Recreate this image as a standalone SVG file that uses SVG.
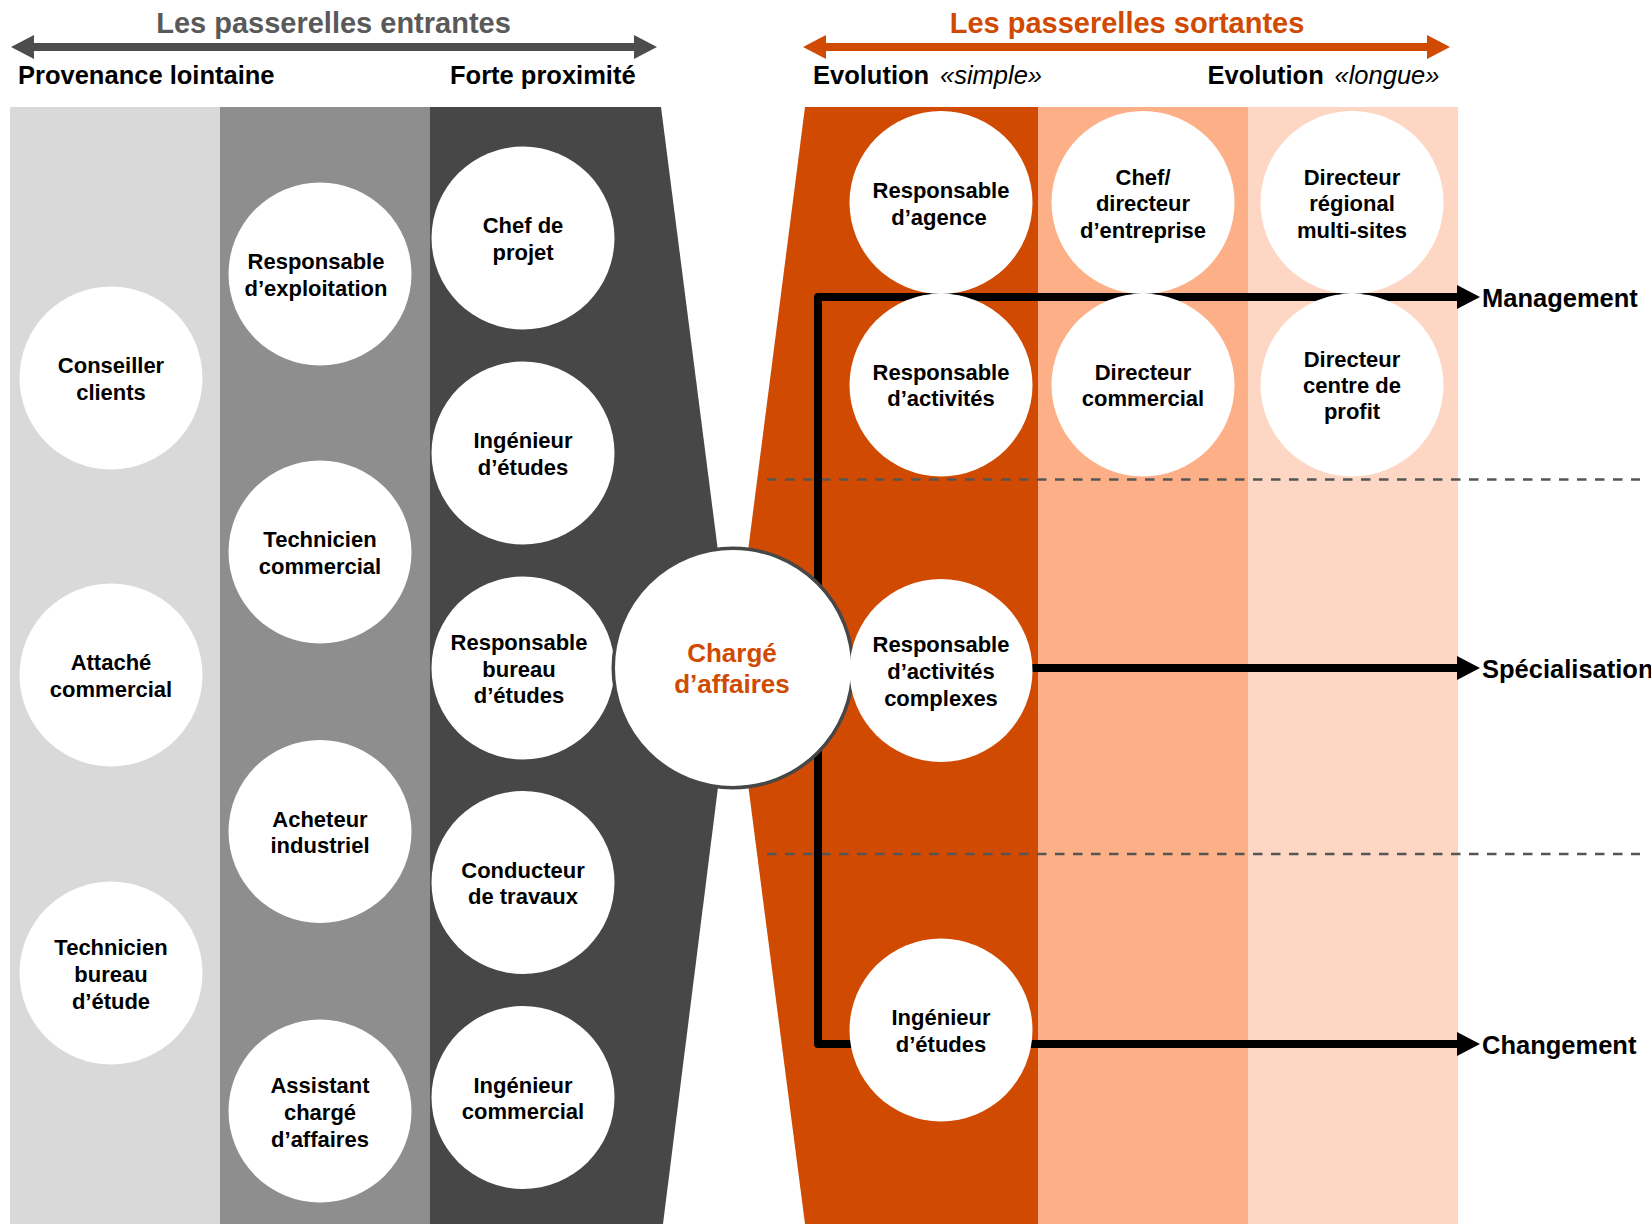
<svg xmlns="http://www.w3.org/2000/svg" width="1651" height="1224" viewBox="0 0 1651 1224">
<defs>
<style>
.t{font-family:"Liberation Sans",Arial,sans-serif;font-weight:bold}
.n circle{fill:#ffffff}
.n text{font-family:"Liberation Sans",Arial,sans-serif;font-weight:bold;font-size:22px;fill:#000;text-anchor:middle}
.hd{font-family:"Liberation Sans",Arial,sans-serif;font-weight:bold;font-size:25.5px;fill:#000}
.it{font-weight:normal;font-style:italic}
.dash{stroke:#555555;stroke-width:2.5;stroke-dasharray:9.5 8.5;fill:none}
.conn{stroke:#000;stroke-width:8;fill:none;stroke-linejoin:round}
</style>
<marker id="ah" markerUnits="userSpaceOnUse" markerWidth="24" markerHeight="24" refX="0" refY="12" orient="auto-start-reverse" viewBox="0 0 24 24">
<path d="M0 0 L23 12 L0 24 Z" fill="#000"/>
</marker>
</defs>
<rect width="1651" height="1224" fill="#ffffff"/>

<g id="headers">
<text class="t" x="333.5" y="33" font-size="29" fill="#595959" text-anchor="middle">Les passerelles entrantes</text>
<line x1="33" y1="47" x2="635" y2="47" stroke="#4d4d4d" stroke-width="8"/>
<polygon points="11,47 34,35 34,59" fill="#4d4d4d"/>
<polygon points="657,47 634,35 634,59" fill="#4d4d4d"/>
<text class="hd" x="18" y="84">Provenance lointaine</text>
<text class="hd" x="450" y="84">Forte proximité</text>

<text class="t" x="1127" y="33" font-size="29" fill="#d04a02" text-anchor="middle">Les passerelles sortantes</text>
<line x1="825" y1="47" x2="1428" y2="47" stroke="#d04a02" stroke-width="8"/>
<polygon points="803,47 826,35 826,59" fill="#d04a02"/>
<polygon points="1450,47 1427,35 1427,59" fill="#d04a02"/>
<text class="hd" x="813" y="84">Evolution</text>
<text class="hd it" x="940" y="84">«simple»</text>
<text class="hd" x="1207.6" y="84">Evolution</text>
<text class="hd it" x="1334.5" y="84">«longue»</text>
</g>

<g id="background">
<rect x="10" y="107" width="210" height="1117" fill="#d9d9d9"/>
<rect x="220" y="107" width="210" height="1117" fill="#8e8e8e"/>
<polygon points="430,107 661,107 733,668 663,1224 430,1224" fill="#474747"/>
<polygon points="805,107 1038,107 1038,1224 805,1224 733,668" fill="#d04a02"/>
<rect x="1038" y="107" width="210" height="1117" fill="#fdb088"/>
<rect x="1248" y="107" width="210" height="1117" fill="#fdd7c4"/>
</g>

<g id="separators">
<line class="dash" x1="767" y1="479.5" x2="1640" y2="479.5"/>
<line class="dash" x1="767" y1="854" x2="1640" y2="854"/>
</g>

<g id="connectors">
<path class="conn" d="M1457 297 H818 V1044 H1457" marker-start="url(#ah)" marker-end="url(#ah)"/>
<line class="conn" x1="818" y1="668" x2="1457" y2="668" marker-end="url(#ah)"/>
<text class="hd" x="1482" y="307">Management</text>
<text class="hd" x="1482" y="678">Spécialisation</text>
<text class="hd" x="1482" y="1054">Changement</text>
</g>

<g id="n-conseiller" class="n"><circle cx="111" cy="378" r="91.5"/><text x="111" y="373">Conseiller<tspan x="111" dy="26.5">clients</tspan></text></g>
<g id="n-attache" class="n"><circle cx="111" cy="675" r="91.5"/><text x="111" y="670">Attaché<tspan x="111" dy="26.5">commercial</tspan></text></g>
<g id="n-technicien-be" class="n"><circle cx="111" cy="973" r="91.5"/><text x="111" y="955">Technicien<tspan x="111" dy="26.8">bureau</tspan><tspan x="111" dy="26.8">d’étude</tspan></text></g>

<g id="n-resp-exploitation" class="n"><circle cx="320" cy="274" r="91.5"/><text x="316" y="269">Responsable<tspan x="316" dy="26.5">d’exploitation</tspan></text></g>
<g id="n-tech-commercial" class="n"><circle cx="320" cy="552" r="91.5"/><text x="320" y="547">Technicien<tspan x="320" dy="26.5">commercial</tspan></text></g>
<g id="n-acheteur" class="n"><circle cx="320" cy="831.5" r="91.5"/><text x="320" y="826.5">Acheteur<tspan x="320" dy="26.5">industriel</tspan></text></g>
<g id="n-assistant" class="n"><circle cx="320" cy="1111" r="91.5"/><text x="320" y="1093">Assistant<tspan x="320" dy="26.8">chargé</tspan><tspan x="320" dy="26.8">d’affaires</tspan></text></g>

<g id="n-chef-projet" class="n"><circle cx="523" cy="238" r="91.5"/><text x="523" y="233">Chef de<tspan x="523" dy="26.5">projet</tspan></text></g>
<g id="n-ing-etudes-in" class="n"><circle cx="523" cy="453" r="91.5"/><text x="523" y="448">Ingénieur<tspan x="523" dy="26.5">d’études</tspan></text></g>
<g id="n-resp-bureau" class="n"><circle cx="523" cy="668" r="91.5"/><text x="519" y="650">Responsable<tspan x="519" dy="26.5">bureau</tspan><tspan x="519" dy="26.5">d’études</tspan></text></g>
<g id="n-conducteur" class="n"><circle cx="523" cy="882.5" r="91.5"/><text x="523" y="877.5">Conducteur<tspan x="523" dy="26.5">de travaux</tspan></text></g>
<g id="n-ing-commercial" class="n"><circle cx="523" cy="1097.5" r="91.5"/><text x="523" y="1092.5">Ingénieur<tspan x="523" dy="26.5">commercial</tspan></text></g>

<g id="n-charge-affaires"><circle cx="733" cy="668" r="119.75" fill="#ffffff" stroke="#474747" stroke-width="3.5"/><text class="t" x="732" y="662" font-size="26" fill="#d04a02" text-anchor="middle">Chargé<tspan x="732" dy="31">d’affaires</tspan></text></g>

<g id="n-resp-agence" class="n"><circle cx="941" cy="202.5" r="91.5"/><text x="941" y="198">Responsable<tspan x="939" dy="26.5">d’agence</tspan></text></g>
<g id="n-chef-directeur" class="n"><circle cx="1143" cy="202.5" r="91.5"/><text x="1143" y="184.5">Chef/<tspan x="1143" dy="26.5">directeur</tspan><tspan x="1143" dy="26.5">d’entreprise</tspan></text></g>
<g id="n-dir-regional" class="n"><circle cx="1352" cy="202.5" r="91.5"/><text x="1352" y="184.5">Directeur<tspan x="1352" dy="26.5">régional</tspan><tspan x="1352" dy="26.5">multi-sites</tspan></text></g>
<g id="n-resp-activites" class="n"><circle cx="941" cy="385" r="91.5"/><text x="941" y="380">Responsable<tspan x="941" dy="26">d’activités</tspan></text></g>
<g id="n-dir-commercial" class="n"><circle cx="1143" cy="385" r="91.5"/><text x="1143" y="380">Directeur<tspan x="1143" dy="26">commercial</tspan></text></g>
<g id="n-dir-profit" class="n"><circle cx="1352" cy="385" r="91.5"/><text x="1352" y="367">Directeur<tspan x="1352" dy="26.2">centre de</tspan><tspan x="1352" dy="26.2">profit</tspan></text></g>
<g id="n-resp-complexes" class="n"><circle cx="941" cy="670.5" r="91.5"/><text x="941" y="652">Responsable<tspan x="941" dy="27">d’activités</tspan><tspan x="941" dy="27">complexes</tspan></text></g>
<g id="n-ing-etudes-out" class="n"><circle cx="941" cy="1030" r="91.5"/><text x="941" y="1025">Ingénieur<tspan x="941" dy="26.5">d’études</tspan></text></g>
</svg>
